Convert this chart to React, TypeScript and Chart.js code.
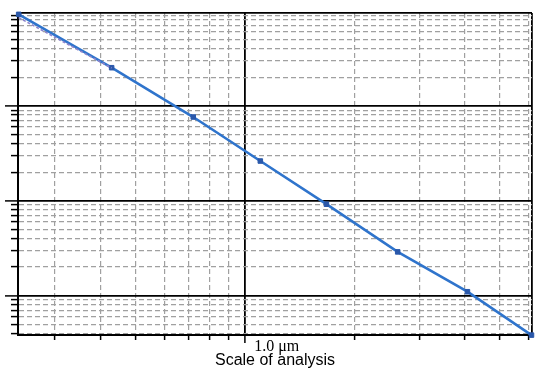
import React, { useEffect, useRef } from 'react';
import { Chart, registerables } from 'chart.js';

Chart.register(...registerables);

// ---- data ----
const sizeX = [0.239, 0.43, 0.72, 1.1, 1.67, 2.62, 4.07, 6.1];
const measureY = [919, 252, 76.2, 26.2, 9.19, 2.89, 1.1, 0.384];
const fitX = [0.239, 0.43];
const fitY = [850, 250];

const xTickValues = [0.3, 0.4, 0.5, 0.6, 0.7, 0.8, 0.9, 1, 2, 3, 4, 5, 6];
const yTickValues = [
  0.4, 0.5, 0.6, 0.7, 0.8, 0.9,
  1, 2, 3, 4, 5, 6, 7, 8, 9,
  10, 20, 30, 40, 50, 60, 70, 80, 90,
  100, 200, 300, 400, 500, 600, 700, 800, 900,
];
const xTickLabels: Record<string, string> = { '1': '1.0 \u03bcm' };
const xTitle = 'Scale of analysis';

const X_MIN = 0.238;
const X_MAX = 6.12;
const Y_MIN = 0.385;
const Y_MAX = 950;

const isMajor = (v: number) => {
  const l = Math.log10(v);
  return Math.abs(l - Math.round(l)) < 1e-6;
};

export default function App() {
  const ref = useRef<HTMLCanvasElement | null>(null);

  useEffect(() => {
    if (!ref.current) return;
    const minorColor = '#a0a0a0';

    const gridFor = (tickLen: number, minorTickLen: number, vertical: boolean, maxVal: number) => ({
      color: (c: any) => {
        if (!c.tick) return minorColor;
        const v = c.tick.value;
        return isMajor(v) || v === maxVal ? '#000' : minorColor;
      },
      lineWidth: (c: any) => {
        if (!c.tick) return 1;
        const v = c.tick.value;
        return isMajor(v) || v === maxVal ? 1.8 : 1.2;
      },
      tickLength: tickLen,
      tickColor: '#000',
      tickWidth: (c: any) => (c.tick && c.tick.value === maxVal ? 0 : 1.5),
      tickBorderDash: (c: any) =>
        c.tick && !isMajor(c.tick.value)
          ? vertical
            ? [minorTickLen, tickLen - minorTickLen]
            : [minorTickLen, 100]
          : [],
      tickBorderDashOffset: (c: any) =>
        c.tick && !isMajor(c.tick.value) && vertical ? minorTickLen : 0,
    });

    const borderFor = (maxVal: number) => ({
      color: '#000',
      width: 2,
      dash: (c: any) => {
        if (!c || !c.tick) return [];
        const v = c.tick.value;
        return isMajor(v) || v === maxVal ? [] : [5, 3];
      },
    });

    const chart = new Chart(ref.current, {
      type: 'scatter',
      data: {
        datasets: [
          {
            label: 'fit',
            data: fitX.map((x, i) => ({ x, y: fitY[i] })),
            showLine: true,
            borderColor: '#8c84cc',
            borderWidth: 1.6,
            borderDash: [3, 2],
            pointRadius: 0,
            fill: false,
            clip: false as any,
          },
          {
            label: 'measured',
            data: sizeX.map((x, i) => ({ x, y: measureY[i] })),
            showLine: true,
            borderColor: '#2f74cc',
            borderWidth: 2.6,
            pointStyle: 'rect',
            pointRadius: 3.2,
            pointBackgroundColor: '#2a58aa',
            pointBorderColor: '#2a58aa',
            pointBorderWidth: 1,
            fill: false,
            clip: false as any,
          },
        ],
      },
      options: {
        animation: false,
        responsive: false,
        events: [],
        layout: { padding: { left: 0, top: 13, right: 3, bottom: 0 } },
        plugins: {
          legend: { display: false },
          tooltip: { enabled: false },
        },
        scales: {
          x: {
            type: 'logarithmic',
            position: 'bottom',
            min: X_MIN,
            max: X_MAX,
            afterBuildTicks: (s: any) => {
              s.ticks = [...xTickValues, X_MAX].map((v) => ({ value: v }));
            },
            afterFit: (s: any) => {
              s.height = 33;
            },
            grid: gridFor(8, 4, false, X_MAX) as any,
            border: borderFor(X_MAX) as any,
            ticks: {
              autoSkip: false,
              maxRotation: 0,
              minRotation: 0,
              align: 'start',
              labelOffset: 9,
              padding: -6,
              color: '#000',
              font: { family: '"Liberation Serif", "Times New Roman", serif', size: 16 },
              callback: (v: any) => xTickLabels[String(v)] ?? '',
            },
            title: {
              display: true,
              text: xTitle,
              color: '#000',
              font: { family: '"Liberation Sans", Arial, sans-serif', size: 16 },
              padding: { top: 0, bottom: -2 },
            },
          },
          y: {
            type: 'logarithmic',
            position: 'left',
            min: Y_MIN,
            max: Y_MAX,
            afterBuildTicks: (s: any) => {
              s.ticks = [...yTickValues, Y_MAX].map((v) => ({ value: v }));
            },
            afterFit: (s: any) => {
              s.width = 18;
            },
            grid: gridFor(13, 7, true, Y_MAX) as any,
            border: borderFor(Y_MAX) as any,
            ticks: { display: false, autoSkip: false },
          },
        },
      } as any,
    });
    return () => chart.destroy();
  }, []);

  return (
    <div style={{ position: 'fixed', left: 0, top: 0, width: 537, height: 368, background: '#fff' }}>
      <canvas ref={ref} width={537} height={368} style={{ display: 'block', width: 537, height: 368 }} />
    </div>
  );
}
